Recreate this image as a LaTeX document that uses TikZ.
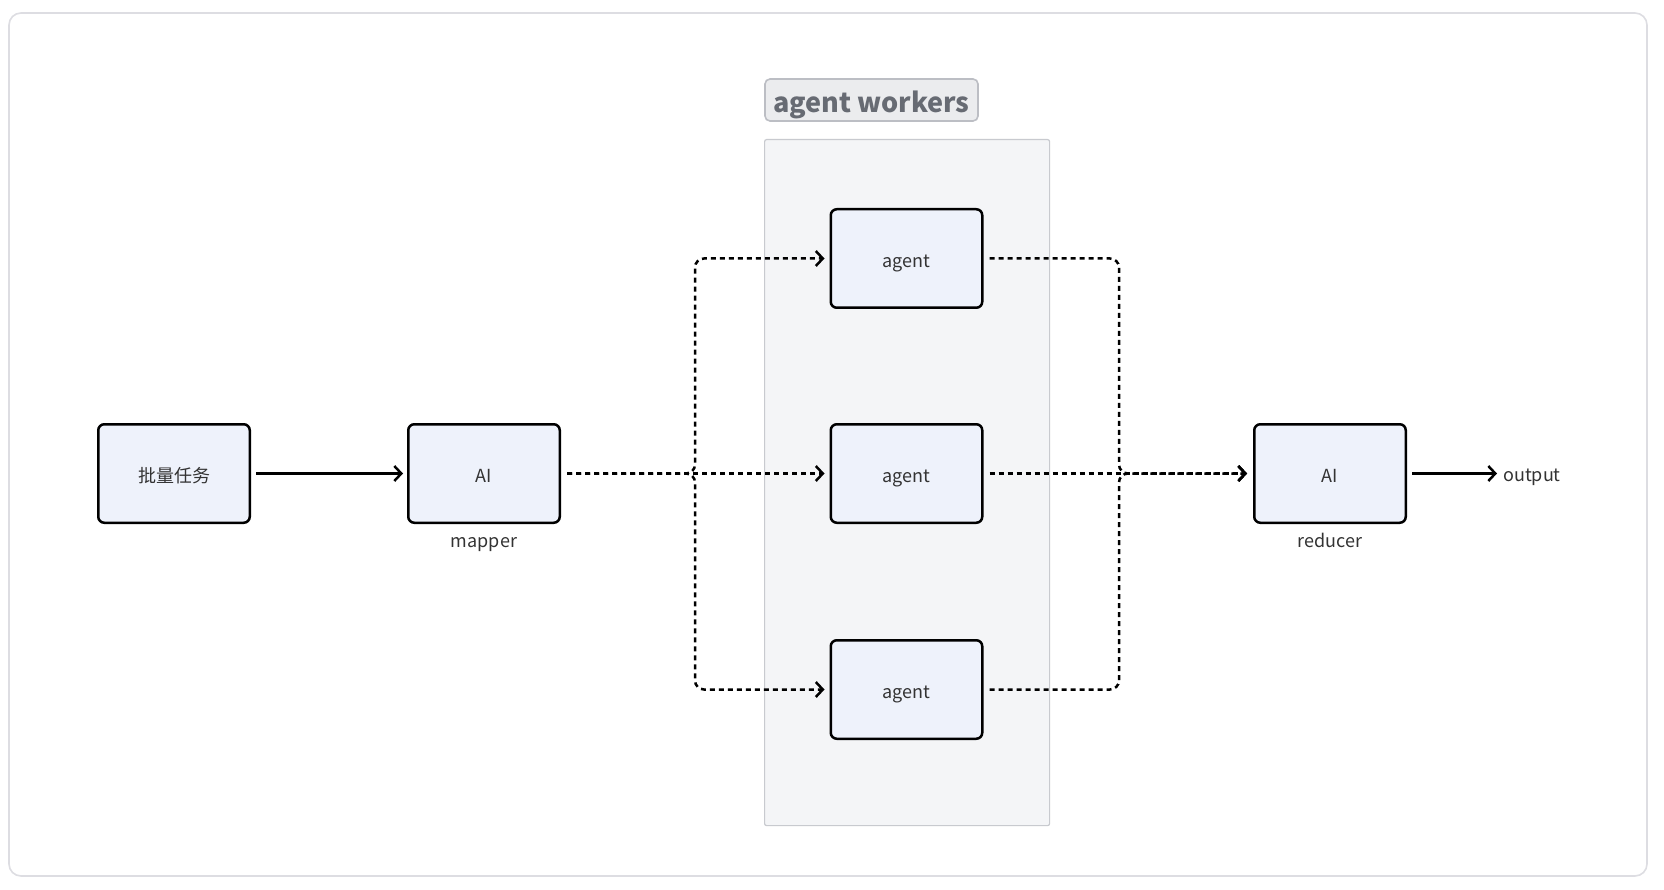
\documentclass[tikz,border=0pt]{standalone}
\usepackage{fontspec}
\setmainfont{Noto Sans CJK SC}
\usetikzlibrary{arrows.meta}
\definecolor{boxfill}{HTML}{EEF2FB}
\definecolor{textdark}{HTML}{333333}
\definecolor{grpfill}{HTML}{F4F5F7}
\definecolor{grpborder}{HTML}{C8CACF}
\definecolor{titlefill}{HTML}{EBECEE}
\definecolor{titleborder}{HTML}{BCBEC4}
\definecolor{titletext}{HTML}{676B73}
\definecolor{frameborder}{HTML}{DDDDE2}
\begin{document}
\begin{tikzpicture}[x=1pt,y=-1pt,
  proc/.style={draw=black, line width=2.5pt, fill=boxfill, rounded corners=6pt,
    minimum width=151.5pt, minimum height=98.5pt, inner sep=0pt,
    text height=17.5pt, text depth=0pt,
    font=\fontsize{18}{20}\selectfont, text=textdark},
  sublabel/.style={font=\fontsize{18}{20}\selectfont, text=textdark, inner sep=0pt,
    text height=12pt, text depth=0pt},
  flow/.style={line width=2.5pt, -{Straight Barb[length=7pt,width=15pt,line width=2.5pt]}},
  dotflow/.style={flow, dash pattern=on 5pt off 4pt, rounded corners=9pt}
]
\useasboundingbox (0,0) rectangle (1664,890);
\fill[white] (0,0) rectangle (1664,890);
% outer frame
\draw[frameborder, line width=1.6pt, rounded corners=12pt] (9,13) rectangle (1647,876);

% group
\node (grp) [draw=grpborder, fill=grpfill, line width=1.2pt, rounded corners=2pt,
  minimum width=285pt, minimum height=686pt, inner sep=0pt, anchor=north west] at (764,139) {};
\node (title) [draw=titleborder, fill=titlefill, line width=1.6pt, rounded corners=5pt,
  minimum width=213pt, minimum height=42pt, inner sep=0pt, text=titletext,
  text height=25pt, text depth=0pt,
  font=\fontsize{27}{30}\selectfont\bfseries] at (871.5,100) {agent workers};

% nodes
\node (task) [proc] at (174,473.5) {批量任务};
\node (mapper) [proc] at (484,473.5) {AI};
\node (mlabel) [sublabel] at (484,541) {mapper};
\node (a1) [proc] at (906.5,258.5) {agent};
\node (a2) [proc] at (906.5,473.5) {agent};
\node (a3) [proc] at (906.5,689.5) {agent};
\node (reducer) [proc] at (1330,473.5) {AI};
\node (rlabel) [sublabel] at (1330,541) {reducer};
\node (out) [anchor=west, font=\fontsize{18}{20}\selectfont, text=textdark, inner sep=0pt,
  text height=15pt, text depth=0pt] at (1503,473.5) {output};

\coordinate (split) at (695,473.5);
\coordinate (merge) at (1119,473.5);

% connectors
\draw[flow, shorten <=5pt, shorten >=4pt] (task) -- (mapper);
\draw[dotflow] ([xshift=6pt]mapper.east) -- (split) -- (split |- a1) -- ([xshift=-5pt]a1.west);
\draw[dotflow] ([xshift=6pt]mapper.east) -- ([xshift=-5pt]a2.west);
\draw[dotflow] ([xshift=6pt]mapper.east) -- (split) -- (split |- a3) -- ([xshift=-5pt]a3.west);
\draw[dotflow] ([xshift=6pt]a1.east) -- (a1 -| merge) -- (merge) -- ([xshift=-6pt]reducer.west);
\draw[dotflow] ([xshift=6pt]a2.east) -- ([xshift=-6pt]reducer.west);
\draw[dotflow] ([xshift=6pt]a3.east) -- (a3 -| merge) -- (merge) -- ([xshift=-6pt]reducer.west);
\draw[flow, shorten <=5pt, shorten >=6pt] (reducer.east) -- (out.west);
\end{tikzpicture}
\end{document}
